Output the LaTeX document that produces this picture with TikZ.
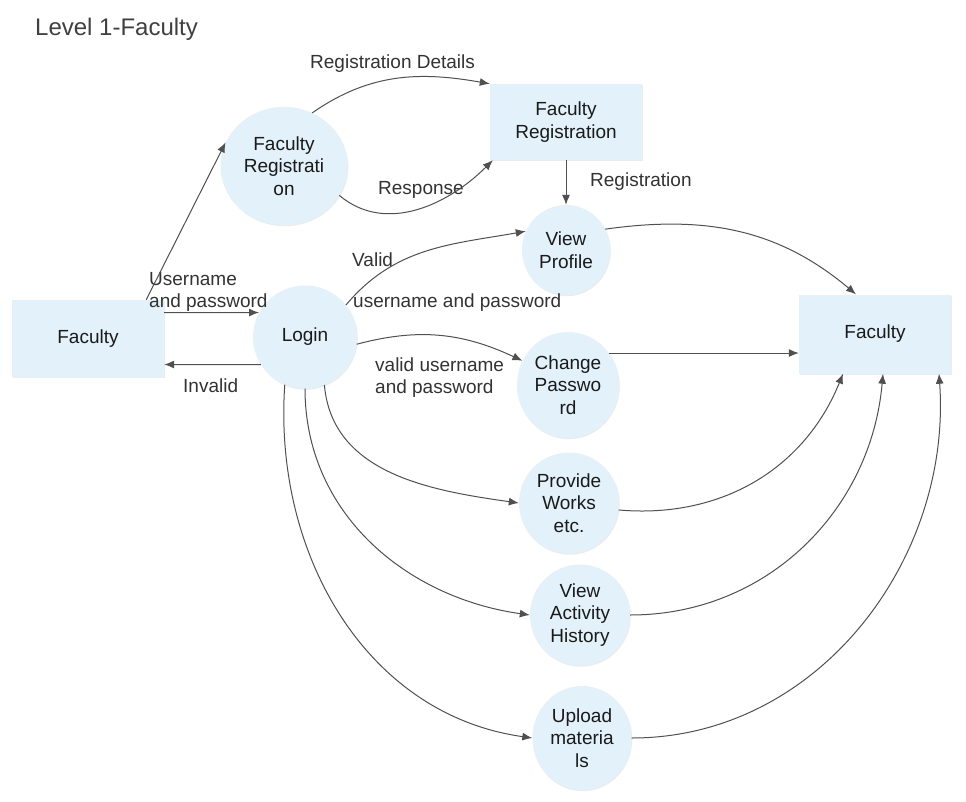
\documentclass[tikz,border=0pt]{standalone}
\usepackage{fontspec}
\setmainfont{Liberation Sans}
\usepackage{tikz}
\usetikzlibrary{shapes.geometric,arrows.meta,shadows}
\definecolor{colorfill}{HTML}{E2F1FA}
\definecolor{colorline}{HTML}{505050}
\definecolor{colortxt}{HTML}{1A1A1A}
\definecolor{colorlbl}{HTML}{333333}
\definecolor{colorttl}{HTML}{404040}
\tikzset{
  proc/.style={ellipse, fill=colorfill, draw=none, inner sep=0pt, align=center,
    text=colortxt, font=\fontsize{19}{22.5}\selectfont,
    drop shadow={shadow xshift=0.8pt, shadow yshift=-1.2pt, opacity=0.15}},
  entity/.style={rectangle, fill=colorfill, draw=none, inner sep=0pt, align=center,
    text=colortxt, font=\fontsize{19}{22.5}\selectfont,
    minimum width=152pt, minimum height=77pt,
    drop shadow={shadow xshift=0.8pt, shadow yshift=-1.2pt, opacity=0.15}},
  lbl/.style={inner sep=0pt, anchor=west, yshift=-2.5pt, text=colorlbl,
    font=\fontsize{19}{22}\selectfont},
  edgeflow/.style={colorline, line width=1pt, -{Latex[length=10pt,width=8pt]}}
}

\begin{document}
\begin{tikzpicture}[x=1pt, y=1pt]
\fill[white] (0,0) rectangle (966,-802);
\useasboundingbox (0,0) rectangle (966,-802);

\node[anchor=west, inner sep=0pt, text=colorttl, font=\fontsize{24}{28}\selectfont]
(title) at (35,-29.5) {Level 1-Faculty};

\node[entity] (facL) at (88,-338.5) {Faculty};

\node[entity, minimum height=79pt] (facR) at (875,-334) {Faculty};

\node[entity, minimum height=76pt] (regS) at (566,-122) {Faculty\\Registration};

\node[proc, minimum width=127pt, minimum height=118pt] (regP) at (284,-166)
{Faculty\\Registrati\\on};

\node[proc, minimum width=104pt, minimum height=103pt] (login) at (305,-337) {Login};

\node[proc, minimum width=88pt, minimum height=90pt] (viewP) at (566,-250)
{View\\Profile};

\node[proc, minimum width=102pt, minimum height=106pt] (chpw) at (568,-385)
{Change\\Passwo\\rd};

\node[proc, minimum width=100pt, minimum height=101pt] (works) at (569,-503)
{Provide\\Works\\etc.};

\node[proc, minimum width=100pt, minimum height=101pt] (hist) at (580,-615)
{View\\Activity\\History};

\node[proc, minimum width=99pt, minimum height=104pt] (upload) at (582,-738)
{Upload\\materia\\ls};

% labels
\node[lbl] (lDetails) at (310,-61) {Registration Details};
\node[lbl] (lResp) at (378,-187) {Response};
\node[lbl] (lReg) at (590,-179) {Registration};
\node[lbl, align=left] (lUser) at (149,-289) {Username\\and password};
\node[lbl] (lInvalid) at (183,-383) {Invalid};
\node[lbl] (lValid) at (352,-257) {Valid};
\node[lbl] (lUserPw) at (353,-300) {username and password};
\node[lbl, align=left] (lValidUser) at (375,-375) {valid username\\and password};

% flows
\draw[edgeflow] ([xshift=-18pt]facL.north east) -- (regP.158);

\draw[edgeflow] (regP.62) to[out=35, in=170] (regS.north west);

\draw[edgeflow] (regP.-28) to[out=-40, in=-135] ([xshift=3pt]regS.south west);

\draw[edgeflow] (regS.south) -- (viewP.north);

\draw[edgeflow] ([yshift=26pt]facL.east) -- (login.152);

\draw[edgeflow] (login.212) -- ([yshift=-26pt]facL.east);

\draw[edgeflow] (login.38) to[out=50, in=190] (viewP.155);

\draw[edgeflow] (login.-8) to[out=15, in=155] (chpw.152);

\draw[edgeflow] (login.-68) to[out=-85, in=172] (works.west);

\draw[edgeflow] (login.south) to[out=-90, in=172] (hist.west);

\draw[edgeflow] (login.-113) to[out=-94, in=172] (upload.west);

\draw[edgeflow] (viewP.28) to[out=8, in=140] ([xshift=-19pt]facR.north);

\draw[edgeflow] (chpw.38) -- (chpw.38 -| facR.west);

\draw[edgeflow] (works.-8) to[out=-5, in=-112] ([xshift=-32pt]facR.south);

\draw[edgeflow] (hist.east) to[out=0, in=-95] ([xshift=8pt]facR.south);

\draw[edgeflow] (upload.east) to[out=0, in=-86] ([xshift=64pt]facR.south);
\end{tikzpicture}
\end{document}
